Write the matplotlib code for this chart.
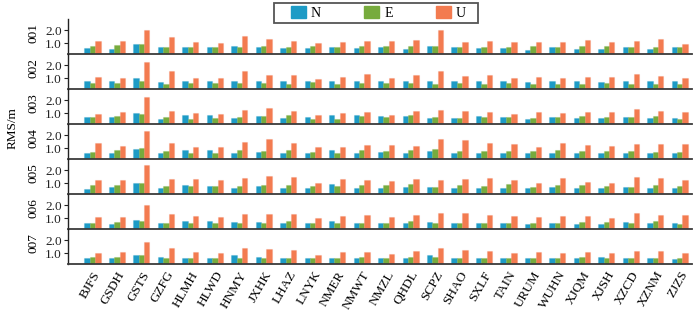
import matplotlib
matplotlib.use("Agg")
import matplotlib.pyplot as plt
from matplotlib.patches import Rectangle, Patch
import numpy as np

stations = ["BJFS", "GSDH", "GSTS", "GZFG", "HLMH", "HLWD", "HNMY", "JXHK", "LHAZ",
            "LNYK", "NMER", "NMWT", "NMZL", "QHDL", "SCPZ", "SHAO", "SXLF", "TAIN",
            "URUM", "WUHN", "XJQM", "XJSH", "XZCD", "XZNM", "ZJZS"]
rows = ["001", "002", "003", "004", "005", "006", "007"]
components = ["N", "E", "U"]
colors = ["#1d9bc6", "#77ab3d", "#f37b50"]

N_vals = [
    [.62, .57, .94, .70, .70, .70, .78, .73, .60, .62, .70, .62, .67, .57, .78, .70, .65, .65, .49, .70, .52, .57, .70, .54, .70],
    [.78, .78, 1.02, .73, .78, .78, .75, .78, .75, .75, .81, .81, .81, .81, .81, .81, .81, .81, .67, .81, .81, .70, .81, .81, .81],
    [.70, .70, .99, .57, .86, .83, .62, .78, .62, .70, .86, .83, .78, .75, .62, .60, .78, .70, .57, .67, .60, .62, .67, .62, .60],
    [.65, .65, .94, .65, .88, .83, .65, .73, .65, .65, .86, .65, .67, .65, .75, .65, .65, .65, .65, .65, .65, .65, .65, .65, .65],
    [.57, .70, 1.02, .67, .86, .81, .67, .75, .65, .67, .94, .62, .65, .70, .70, .65, .62, .62, .65, .73, .62, .65, .73, .65, .60],
    [.60, .57, .86, .65, .81, .78, .73, .73, .62, .62, .78, .65, .65, .62, .73, .65, .67, .65, .52, .65, .57, .57, .70, .60, .65],
    [.62, .65, .86, .75, .65, .65, .86, .70, .65, .65, .65, .65, .65, .65, .88, .65, .65, .65, .65, .65, .65, .70, .65, .65, .57],
]
E_vals = [
    [.81, .83, .94, .70, .70, .70, .70, .78, .73, .75, .70, .78, .78, .81, .78, .70, .70, .73, .78, .70, .81, .78, .70, .70, .70],
    [.62, .60, .78, .57, .60, .60, .62, .65, .52, .67, .57, .62, .60, .62, .57, .62, .57, .62, .57, .54, .57, .60, .54, .54, .54],
    [.70, .78, .91, .70, .54, .60, .70, .78, .83, .57, .54, .75, .67, .83, .70, .65, .67, .70, .62, .67, .78, .67, .70, .75, .57],
    [.73, .86, 1.02, .81, .65, .65, .88, .81, .83, .73, .65, .83, .75, .88, .91, .81, .78, .75, .78, .86, .81, .81, .75, .73, .73],
    [.88, .86, 1.04, .81, .75, .81, .81, .83, .88, .75, .78, .83, .83, .94, .73, .83, .81, .91, .73, .83, .88, .78, .73, .83, .78],
    [.60, .75, .81, .60, .60, .60, .60, .60, .78, .60, .60, .65, .65, .81, .60, .60, .60, .62, .65, .60, .73, .70, .65, .78, .54],
    [.70, .73, .86, .65, .65, .62, .67, .65, .65, .65, .65, .70, .65, .75, .73, .65, .65, .67, .65, .65, .73, .67, .65, .65, .65],
]
U_vals = [
    [1.17, 1.15, 2.04, 1.49, 1.07, 1.02, 1.57, 1.33, 1.20, 1.02, 1.12, 1.20, 1.15, 1.25, 2.01, 1.12, 1.17, 1.07, 1.09, 1.07, 1.23, 1.09, 1.20, 1.30, 0.96],
    [1.09, 1.04, 2.22, 1.57, 1.04, 1.02, 1.59, 1.28, 1.23, 0.96, 1.09, 1.33, 1.02, 1.23, 1.57, 1.17, 1.25, 1.02, 1.07, 1.04, 1.09, 1.09, 1.33, 1.17, 1.04],
    [0.91, 1.09, 2.25, 1.17, 1.04, 0.96, 1.23, 1.38, 1.17, 0.86, 1.04, 1.09, 0.88, 1.17, 1.25, 1.15, 1.09, 0.94, 1.09, 1.04, 1.09, 1.09, 1.33, 1.17, 1.07],
    [1.38, 1.15, 2.30, 1.41, 1.09, 1.07, 1.46, 1.72, 1.41, 1.12, 1.07, 1.25, 1.25, 1.17, 1.72, 1.62, 1.41, 1.36, 1.09, 1.41, 1.23, 1.17, 1.33, 1.33, 1.36],
    [1.28, 1.23, 2.38, 1.36, 1.30, 1.28, 1.38, 1.57, 1.51, 1.04, 1.36, 1.28, 1.15, 1.33, 1.28, 1.36, 1.41, 1.28, 1.04, 1.38, 1.07, 1.04, 1.49, 1.38, 1.28],
    [1.12, 1.12, 2.04, 1.36, 1.17, 1.12, 1.33, 1.36, 1.36, 0.99, 1.17, 1.23, 1.12, 1.28, 1.38, 1.38, 1.28, 1.15, 1.09, 1.15, 1.15, 1.02, 1.44, 1.28, 1.23],
    [1.04, 1.12, 1.91, 1.41, 1.12, 0.99, 1.44, 1.33, 1.25, 0.91, 1.09, 1.12, 0.96, 1.17, 1.44, 1.28, 1.17, 1.02, 1.12, 1.04, 1.09, 1.04, 1.20, 1.20, 1.02],
]
yticks = [1.0, 2.0]
ytick_labels = ["1.0", "2.0"]

serif = ["Liberation Serif", "DejaVu Serif"]
plt.rcParams["font.family"] = serif

W, H = 699, 310
fig = plt.figure(figsize=(W / 100, H / 100), dpi=100)

left, right = 68 / W, 692 / W
top_px, bot_px = 19.0, 264.3
row_h = (bot_px - top_px) / len(rows)

x = np.arange(len(stations))
bw = 0.22
series = [N_vals, E_vals, U_vals]

for r, name in enumerate(rows):
    y_top = top_px + r * row_h
    ax = fig.add_axes([left, 1 - (y_top + row_h) / H, right - left, row_h / H])
    for k, (vals, c) in enumerate(zip(series, colors)):
        ax.bar(x + (k - 1) * bw, vals[r], width=bw, color=c,
               edgecolor=matplotlib.colors.to_rgba(c, 0.25), linewidth=0.8)
    ax.set_xlim(-1.0, 24.5)
    ax.set_ylim(0.15, 2.87)
    ax.set_yticks(yticks)
    ax.set_yticklabels(ytick_labels, fontsize=9.5)
    ax.tick_params(axis="y", direction="out", length=3, width=0.8, pad=1.5, colors="#222222")
    ax.spines["top"].set_visible(False)
    ax.spines["right"].set_visible(False)
    ax.spines["left"].set_color("#222222")
    ax.spines["left"].set_linewidth(1.0)
    ax.spines["bottom"].set_color("#3a3a3a")
    ax.spines["bottom"].set_linewidth(1.3)
    ax.set_ylabel(name, fontsize=9.5)
    ax.yaxis.set_label_coords(-0.046, 0.6)
    ax.patch.set_alpha(0)
    ax.set_xticks(x)
    if r == len(rows) - 1:
        ax.set_xticklabels(stations, rotation=60, ha="right", va="top",
                           rotation_mode="anchor", fontsize=9.5)
        ax.tick_params(axis="x", length=0, pad=3.5)
    else:
        ax.set_xticklabels([])
        ax.tick_params(axis="x", length=0)

fig.text(12.5 / W, 1 - 128 / H, "RMS/m", rotation=90, ha="center", va="center", fontsize=9.5)

# legend frame
fig.patches.append(Rectangle((274 / W, 1 - 23.3 / H), (478 - 274) / W, 20 / H,
                             transform=fig.transFigure, fill=False,
                             edgecolor="#555555", linewidth=1.3))
handles = [Patch(facecolor=c, edgecolor=c) for c in colors]
fig.legend(handles, components, loc="upper left", bbox_to_anchor=(288 / W, 1 - 3.5 / H),
           ncol=3, frameon=False, fontsize=10, handlelength=1.1, handleheight=0.95,
           handletextpad=0.35, columnspacing=3.1, borderpad=0.2, borderaxespad=0)

fig.savefig("out.png", dpi=100)
